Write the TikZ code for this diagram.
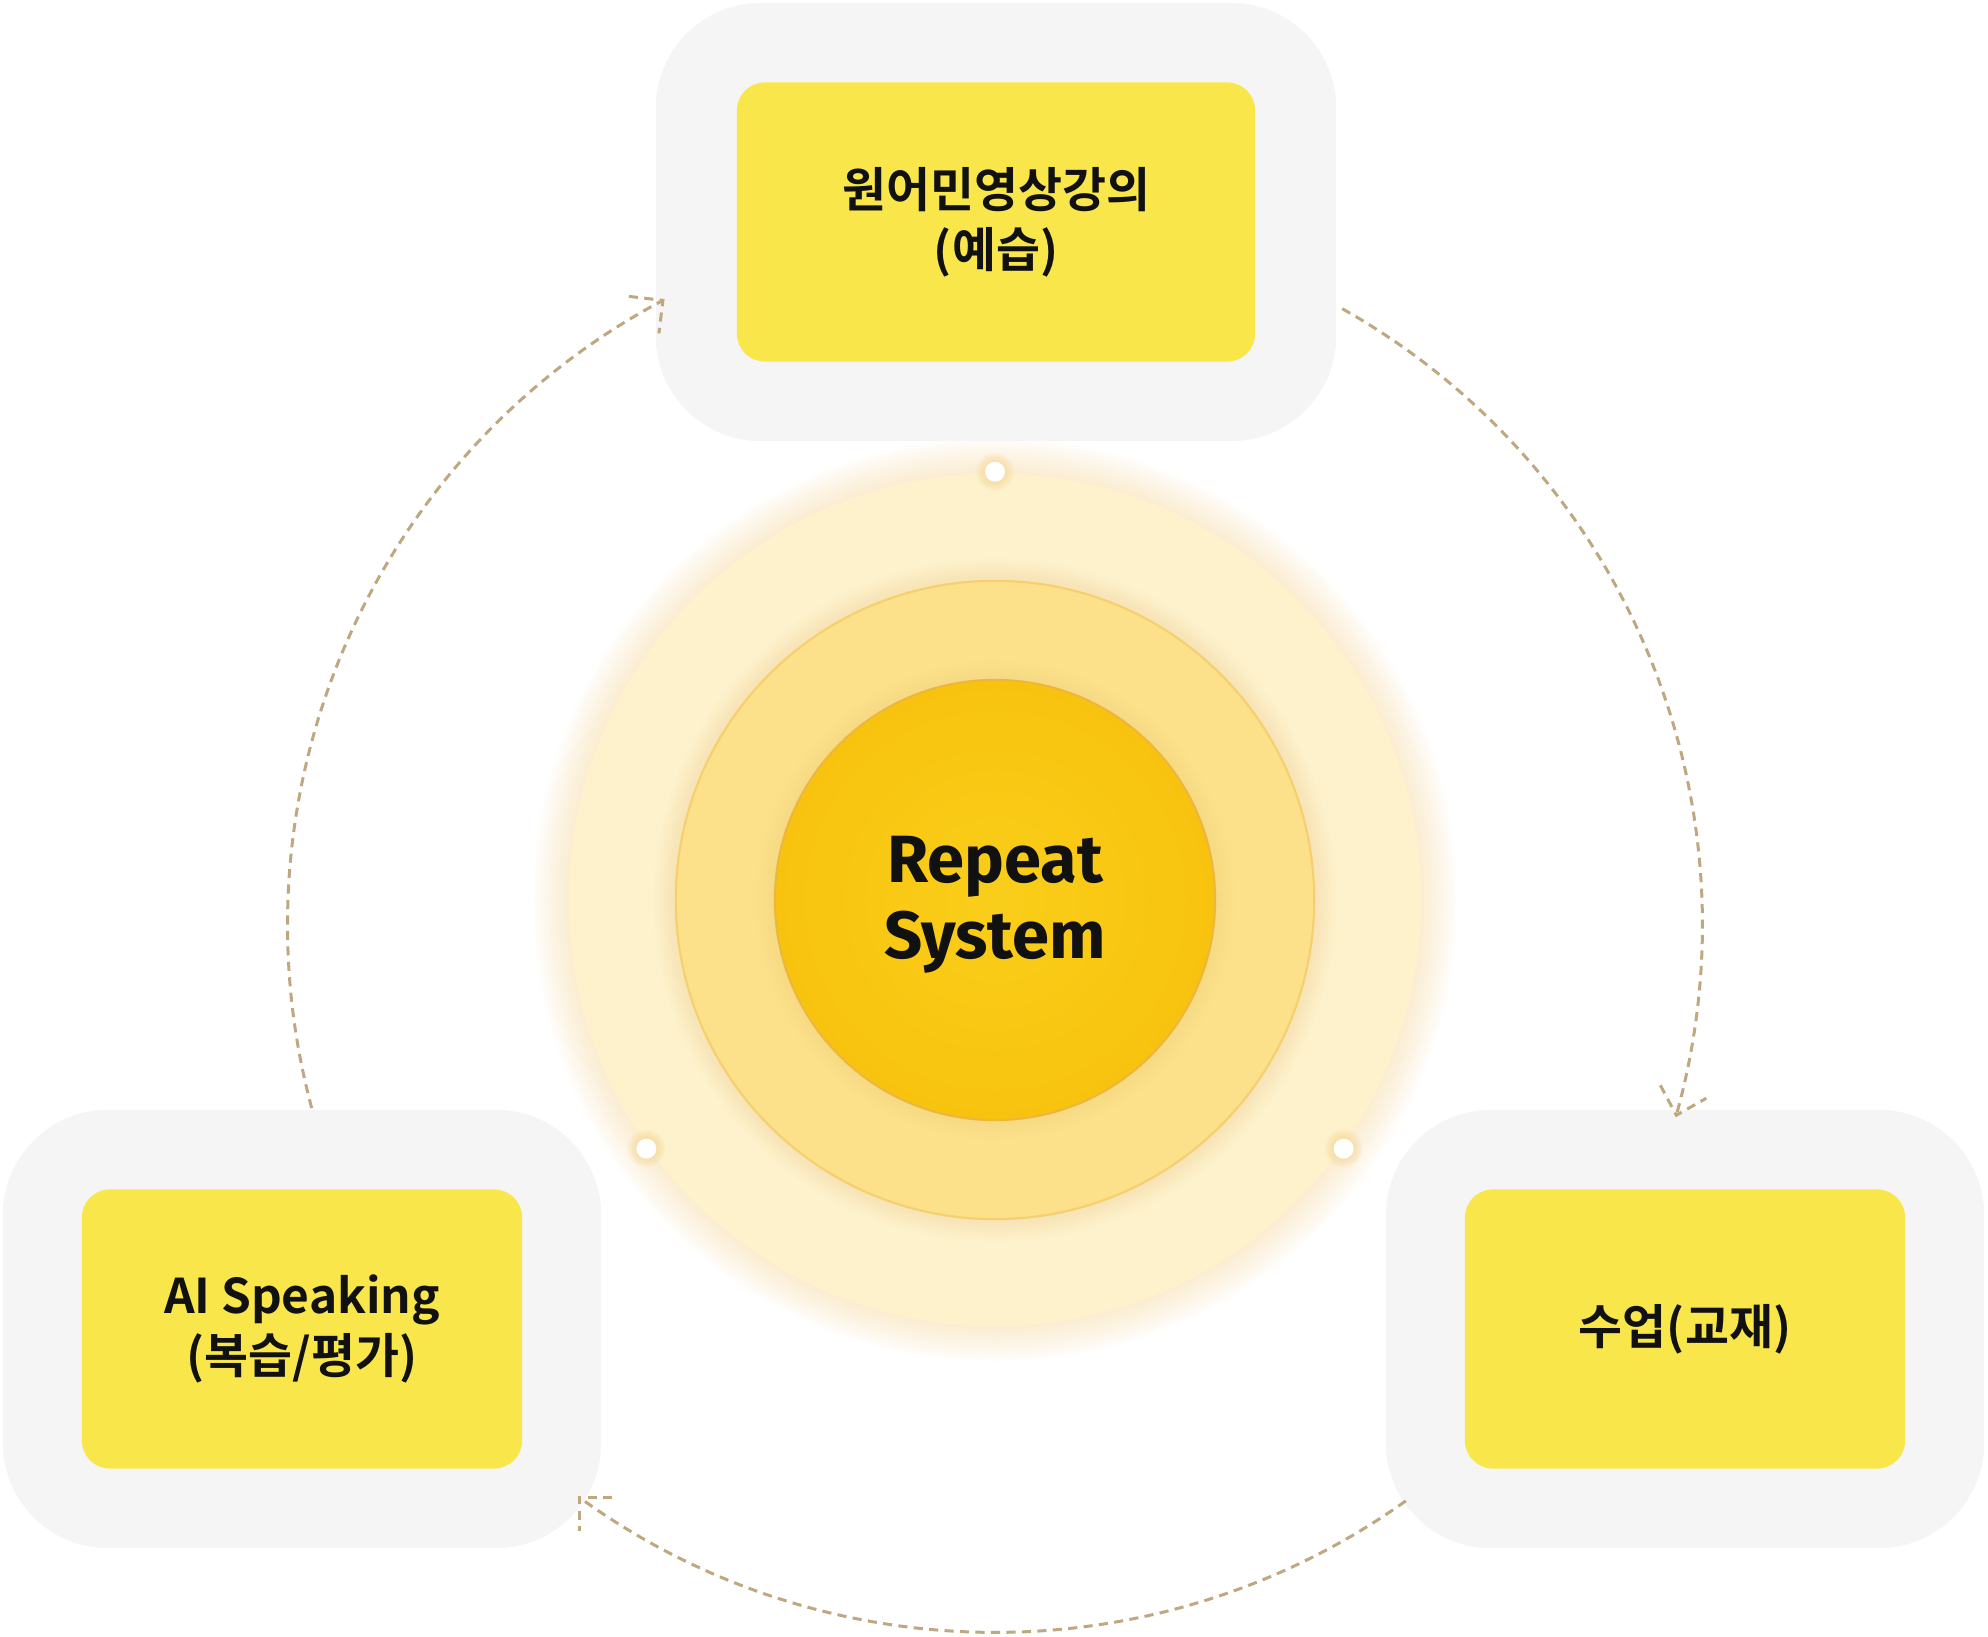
\documentclass[tikz,border=0pt]{standalone}
\usepackage{fontspec}
\setmainfont{Noto Sans CJK KR}[BoldFont=* Bold]
\newfontfamily\repfont{Fira Sans}[BoldFont=* Bold]
\usepackage{xcolor}
\usetikzlibrary{positioning,calc}

\definecolor{framegray}{HTML}{F5F5F5}
\definecolor{stageyellow}{HTML}{F9E64B}
\definecolor{halo}{HTML}{F2CC80}
\definecolor{ringout}{HTML}{FEF2CC}
\definecolor{ringmid}{HTML}{FDE08A}
\definecolor{ringmidline}{HTML}{F6CF6E}
\definecolor{corein}{HTML}{F9CE1A}
\definecolor{coreout}{HTML}{F8C30E}
\definecolor{coreline}{HTML}{EDB73C}
\definecolor{flowtan}{HTML}{BFA780}
\definecolor{ink}{HTML}{111111}

\begin{document}
\begin{tikzpicture}[x=0.01cm, y=0.01cm,
    frame/.style={fill=framegray, rounded corners=1.05cm, minimum height=4.38cm,
                  inner sep=0pt},
    stage/.style={fill=stageyellow, rounded corners=0.28cm, minimum width=4.4cm,
                  minimum height=2.79cm, inner sep=0pt, align=center, text=ink,
                  font=\bfseries\fontsize{13.6pt}{17pt}\selectfont},
    ring/.style={circle, fill=ringout, minimum size=8.52cm, inner sep=0pt},
    midring/.style={circle, fill=ringmid, draw=ringmidline, line width=0.6pt,
                    minimum size=6.38cm, inner sep=0pt},
    core/.style={circle, inner color=corein, outer color=coreout, draw=coreline,
                 line width=0.6pt, minimum size=4.40cm, inner sep=0pt},
    coretext/.style={align=center, text=ink,
                     font=\repfont\bfseries\fontsize{19pt}{21.6pt}\selectfont},
    dot/.style={circle, fill=white, minimum size=0.20cm, inner sep=0pt},
    flow/.style={draw=flowtan, line width=0.85pt, dash pattern=on 2.6pt off 1.8pt},
]
\useasboundingbox (0,0) rectangle (1988,1636);

% Glow round the rings
\coordinate (hub) at (995,736);
\foreach \r in {4.28,4.30,...,4.64}
  \fill[halo, opacity=0.025] (hub) circle[radius=\r cm];

% Top stage
\node[frame, minimum width=6.8cm] (topframe) at (996,1414) {};
\node[stage, minimum width=5.18cm] (lecture) at (topframe.center)
  {원어민영상강의\\(예습)};

% Left stage
\node[frame, minimum width=5.98cm] (leftframe) at (302,307) {};
\node[stage] (speaking) at (leftframe.center) {AI Speaking\\(복습/평가)};

% Right stage
\node[frame, minimum width=5.98cm] (rightframe) at (1685,307) {};
\node[stage] (lesson) at (rightframe.center) {수업(교재)};

% Rings
\node[ring] (ring) at (hub) {};
\foreach \r in {3.20,3.23,...,3.41}
  \fill[halo, opacity=0.04] (hub) circle[radius=\r cm];
\node[midring] (mid) at (hub) {};
\foreach \r in {2.21,2.24,...,2.39}
  \fill[halo, opacity=0.04] (hub) circle[radius=\r cm];
\node[core] (core) at (hub) {};
\node[coretext] (repeat) at ($(core.center)+(0,-5)$) {Repeat\\System};

% Dots on the outer ring
\foreach \a/\name in {90/dtop, 215.5/dleft, -35.5/dright} {
  \foreach \r in {0.11,0.13,...,0.21}
    \fill[halo, opacity=0.12] ($(hub)+(\a:4.28cm)$) circle[radius=\r cm];
  \node[dot] (\name) at ($(hub)+(\a:4.28cm)$) {};
}

% Cycle arrows
\coordinate (cyc) at (995,711);
\draw[flow] ([shift={(195:7.07cm)}]cyc) arc[start angle=195, end angle=118,
  radius=7.07cm] coordinate (t1);
\draw[flow] ($(t1)+(-34,4)$) -- (t1) -- ++(-4,-33);

\draw[flow] ([shift={(60.6:7.07cm)}]cyc) arc[start angle=60.6, end angle=-15.6,
  radius=7.07cm] coordinate (t2);
\draw[flow] ($(t2)+(-16,30)$) -- (t2) -- ++(30,17);

\draw[flow] ([shift={(-54.5:7.07cm)}]cyc) arc[start angle=-54.5, end angle=-126,
  radius=7.07cm] coordinate (t3);
\draw[flow] ($(t3)+(33,0)$) -- (t3) -- ++(0,-34);

\end{tikzpicture}
\end{document}
